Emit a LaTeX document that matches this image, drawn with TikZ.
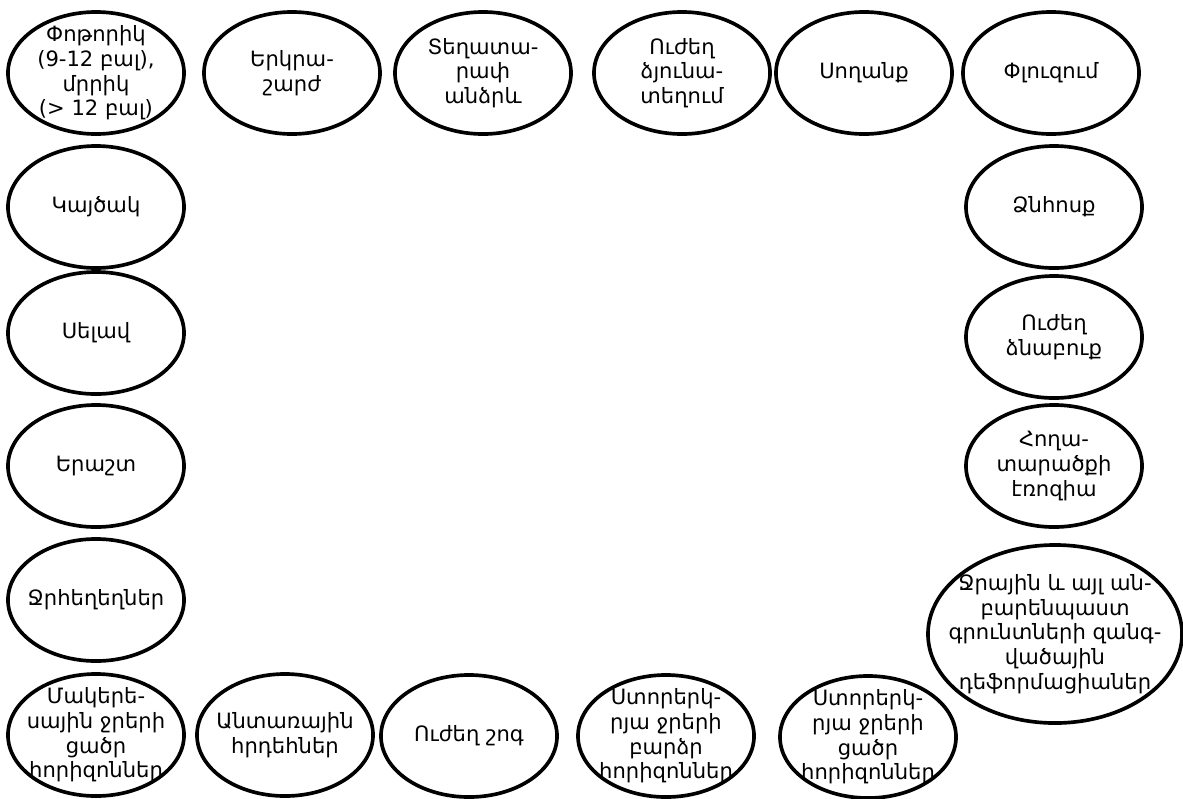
\documentclass[tikz,border=0pt]{standalone}
\usepackage{fontspec}
\setmainfont{DejaVu Sans}
\usetikzlibrary{shapes.geometric}

\begin{document}
\begin{tikzpicture}[x=0.025cm,y=-0.025cm,line cap=round,line join=round,
    hazard/.style={draw,ellipse,line width=2.6pt,inner sep=0pt,minimum width=4.4cm,minimum height=3.05cm},
    bigharm/.style={hazard,minimum width=6.35cm,minimum height=4.45cm},
    lbl/.style={align=center,inner sep=0pt,font=\fontsize{15}{17.5}\selectfont}]
    \useasboundingbox (0,0) rectangle (1183,798);

    % top row
    \node[hazard] (potorik) at (96,73) {};
    \node[lbl] (potorik-t) at (potorik) {Փոթորիկ\\(9-12 բալ),\\մրրիկ\\(> 12 բալ)};
    \node[hazard] (yerkrasharzh) at (292,73) {};
    \node[lbl] (yerkrasharzh-t) at (yerkrasharzh) {Երկրա-\\շարժ};
    \node[hazard] (teghatarap) at (483,73) {};
    \node[lbl] (teghatarap-t) at (teghatarap) {Տեղատա-\\րափ\\անձրև};
    \node[hazard] (dzyun) at (682,73) {};
    \node[lbl] (dzyun-t) at (dzyun) {Ուժեղ\\ձյունա-\\տեղում};
    \node[hazard] (soghanq) at (864,73) {};
    \node[lbl] (soghanq-t) at (soghanq) {Սողանք};
    \node[hazard] (pluzum) at (1051,73) {};
    \node[lbl] (pluzum-t) at (pluzum) {Փլուզում};

    % left column
    \node[hazard] (kaytsak) at (96,207) {};
    \node[lbl] (kaytsak-t) at (kaytsak) {Կայծակ};
    \node[hazard] (selav) at (96,333) {};
    \node[lbl] (selav-t) at (selav) {Սելավ};
    \node[hazard] (yerasht) at (96,466) {};
    \node[lbl] (yerasht-t) at (yerasht) {Երաշտ};
    \node[hazard] (jrhegh) at (96,600) {};
    \node[lbl] (jrhegh-t) at (jrhegh) {Ջրհեղեղներ};

    % right column
    \node[hazard] (dznhosq) at (1054,207) {};
    \node[lbl] (dznhosq-t) at (dznhosq) {Ձնհոսք};
    \node[hazard] (dznabuq) at (1054,337) {};
    \node[lbl] (dznabuq-t) at (dznabuq) {Ուժեղ\\ձնաբուք};
    \node[hazard] (erozia) at (1054,466) {};
    \node[lbl] (erozia-t) at (erozia) {Հողա-\\տարածքի\\էռոզիա};
    \node[bigharm] (deform) at (1055,634) {};
    \node[lbl] (deform-t) at (deform) {Ջրային և այլ ան-\\բարենպաստ\\գրունտների զանգ-\\վածային\\դեֆորմացիաներ};

    % bottom row
    \node[hazard] (makeres) at (96,735) {};
    \node[lbl] (makeres-t) at (makeres) {Մակերե-\\սային ջրերի\\ցածր\\հորիզոններ};
    \node[hazard] (antar) at (285,735) {};
    \node[lbl] (antar-t) at (antar) {Անտառային\\հրդեհներ};
    \node[hazard] (shog) at (469,736) {};
    \node[lbl] (shog-t) at (shog) {Ուժեղ շոգ};
    \node[hazard] (barzr) at (666,736) {};
    \node[lbl] (barzr-t) at (barzr) {Ստորերկ-\\րյա ջրերի\\բարձր\\հորիզոններ};
    \node[hazard] (tsatsr) at (868,737) {};
    \node[lbl] (tsatsr-t) at (tsatsr) {Ստորերկ-\\րյա ջրերի\\ցածր\\հորիզոններ};
\end{tikzpicture}
\end{document}
